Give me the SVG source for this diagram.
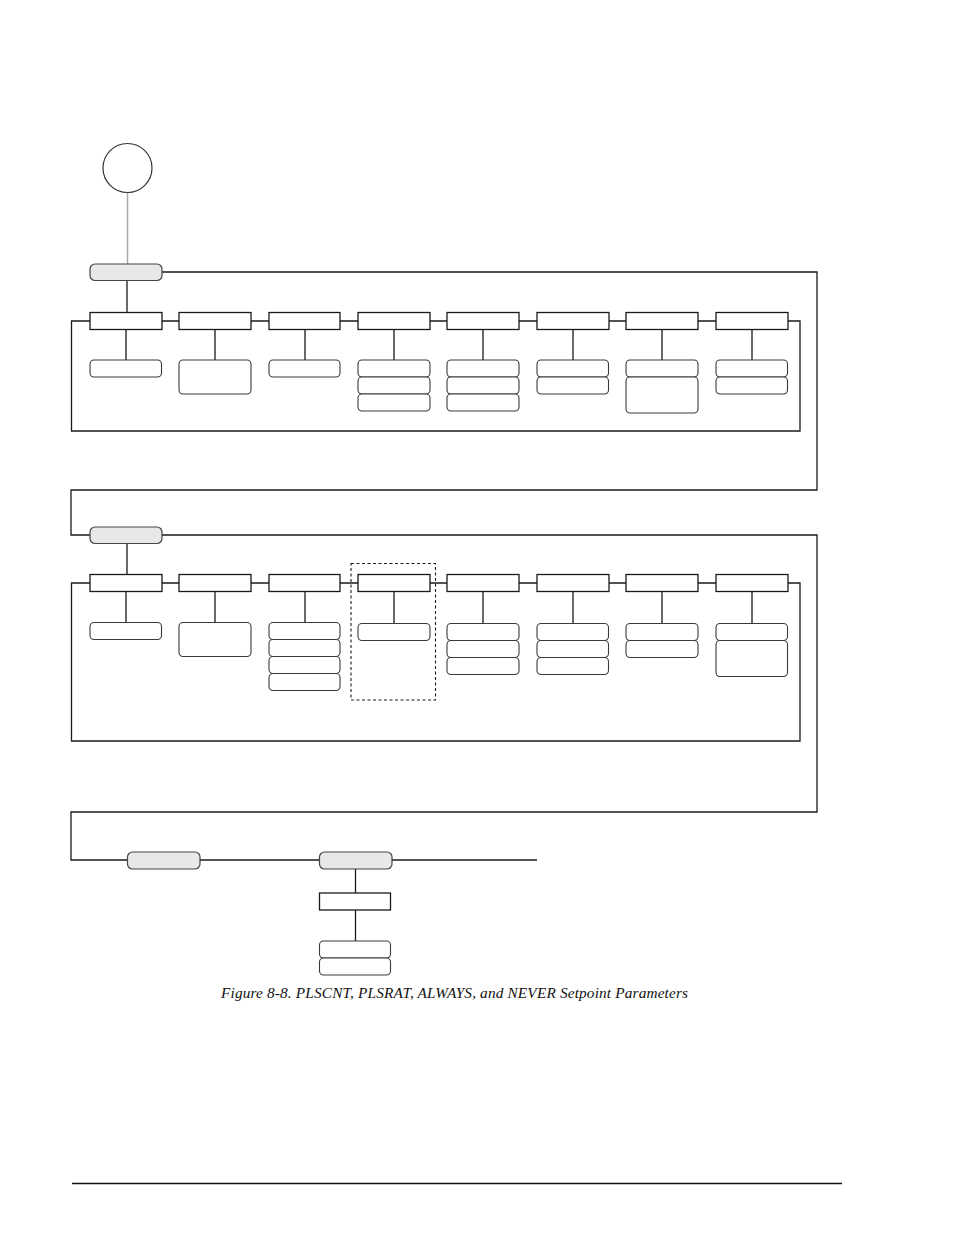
<svg xmlns="http://www.w3.org/2000/svg" width="954" height="1235" viewBox="0 0 954 1235">
<style>
.ln{fill:none;stroke:#1a1a1a;stroke-width:1.3}
.gl{fill:none;stroke:#aaaaaa;stroke-width:1.5}
.sq{fill:#fff;stroke:#1a1a1a;stroke-width:1.3}
.pl{fill:#e8e8e8;stroke:#444;stroke-width:1.2}
.ch{fill:#fff;stroke:#3a3a3a;stroke-width:1.1}
.ds{fill:none;stroke:#1a1a1a;stroke-width:1.1;stroke-dasharray:3,2.5}
</style>
<rect width="954" height="1235" fill="#fff"/>
<g id="connectors">
<line class="gl" x1="127.5" y1="192" x2="127.5" y2="264"/>
<polyline class="ln" points="162,272 817,272 817,490 71,490 71,535 90,535"/>
<line class="ln" x1="127" y1="280" x2="127" y2="312"/>
<polyline class="ln" points="90,321 71.5,321 71.5,431 800,431 800,321 788,321"/>
<path class="ln" d="M162,321H179M251,321H269M340,321H358M430,321H447M519,321H537M609,321H626M698,321H716"/>
<path class="ln" d="M126,329V360M215,329V360M305,329V360M394,329V360M483,329V360M573,329V360M662,329V360M752,329V360"/>
<polyline class="ln" points="162,535 817,535 817,812 71,812 71,860 127,860"/>
<line class="ln" x1="127" y1="543" x2="127" y2="574"/>
<polyline class="ln" points="90,583 71.5,583 71.5,741 800,741 800,583 788,583"/>
<path class="ln" d="M162,583H179M251,583H269M340,583H358M430,583H447M519,583H537M609,583H626M698,583H716"/>
<path class="ln" d="M126,591V622M215,591V622M305,591V622M394,591V623M483,591V623M573,591V623M662,591V623M752,591V623"/>
<line class="ln" x1="200" y1="860" x2="319" y2="860"/>
<line class="ln" x1="392" y1="860" x2="537" y2="860"/>
<line class="ln" x1="355.5" y1="869" x2="355.5" y2="893"/>
<line class="ln" x1="355.5" y1="910" x2="355.5" y2="941"/>
</g>
<g id="start"><circle cx="127.5" cy="168" r="24.5" fill="#fff" stroke="#333" stroke-width="1.2"/></g>
<g id="menu1"><rect class="pl" x="90" y="264" width="72" height="16.5" rx="5"/></g>
<g id="menu2"><rect class="pl" x="90" y="527" width="72" height="16.5" rx="5"/></g>
<g id="menu3"><rect class="pl" x="127.5" y="852" width="72.5" height="17" rx="5"/></g>
<g id="menu4"><rect class="pl" x="319.5" y="852" width="72.5" height="17" rx="5"/></g>
<g id="row1">
<rect class="sq" x="90" y="312.5" width="72" height="17"/>
<rect class="sq" x="179" y="312.5" width="72" height="17"/>
<rect class="sq" x="269" y="312.5" width="71" height="17"/>
<rect class="sq" x="358" y="312.5" width="72" height="17"/>
<rect class="sq" x="447" y="312.5" width="72" height="17"/>
<rect class="sq" x="537" y="312.5" width="72" height="17"/>
<rect class="sq" x="626" y="312.5" width="72" height="17"/>
<rect class="sq" x="716" y="312.5" width="72" height="17"/>
</g>
<g id="row1-options">
<rect class="ch" x="90" y="360" width="71.5" height="17" rx="4"/>
<rect class="ch" x="179" y="360" width="72" height="34" rx="4"/>
<rect class="ch" x="269" y="360" width="71" height="17" rx="4"/>
<rect class="ch" x="358" y="360" width="72" height="17" rx="4"/>
<rect class="ch" x="358" y="377" width="72" height="17" rx="4"/>
<rect class="ch" x="358" y="394" width="72" height="17" rx="4"/>
<rect class="ch" x="447" y="360" width="72" height="17" rx="4"/>
<rect class="ch" x="447" y="377" width="72" height="17" rx="4"/>
<rect class="ch" x="447" y="394" width="72" height="17" rx="4"/>
<rect class="ch" x="537" y="360" width="71.5" height="17" rx="4"/>
<rect class="ch" x="537" y="377" width="71.5" height="17" rx="4"/>
<rect class="ch" x="626" y="360" width="72" height="17" rx="4"/>
<rect class="ch" x="626" y="377" width="72" height="36" rx="4"/>
<rect class="ch" x="716" y="360" width="71.5" height="17" rx="4"/>
<rect class="ch" x="716" y="377" width="71.5" height="17" rx="4"/>
</g>
<g id="row2">
<rect class="sq" x="90" y="574.5" width="72" height="17"/>
<rect class="sq" x="179" y="574.5" width="72" height="17"/>
<rect class="sq" x="269" y="574.5" width="71" height="17"/>
<rect class="sq" x="358" y="574.5" width="72" height="17"/>
<rect class="sq" x="447" y="574.5" width="72" height="17"/>
<rect class="sq" x="537" y="574.5" width="72" height="17"/>
<rect class="sq" x="626" y="574.5" width="72" height="17"/>
<rect class="sq" x="716" y="574.5" width="72" height="17"/>
</g>
<g id="row2-options">
<rect class="ch" x="90" y="622.5" width="71.5" height="17" rx="4"/>
<rect class="ch" x="179" y="622.5" width="72" height="34" rx="4"/>
<rect class="ch" x="269" y="622.5" width="71" height="17" rx="4"/>
<rect class="ch" x="269" y="639.5" width="71" height="17" rx="4"/>
<rect class="ch" x="269" y="656.5" width="71" height="17" rx="4"/>
<rect class="ch" x="269" y="673.5" width="71" height="17" rx="4"/>
<rect class="ch" x="358" y="623.5" width="72" height="17" rx="4"/>
<rect class="ch" x="447" y="623.5" width="72" height="17" rx="4"/>
<rect class="ch" x="447" y="640.5" width="72" height="17" rx="4"/>
<rect class="ch" x="447" y="657.5" width="72" height="17" rx="4"/>
<rect class="ch" x="537" y="623.5" width="71.5" height="17" rx="4"/>
<rect class="ch" x="537" y="640.5" width="71.5" height="17" rx="4"/>
<rect class="ch" x="537" y="657.5" width="71.5" height="17" rx="4"/>
<rect class="ch" x="626" y="623.5" width="72" height="17" rx="4"/>
<rect class="ch" x="626" y="640.5" width="72" height="17" rx="4"/>
<rect class="ch" x="716" y="623.5" width="71.5" height="17" rx="4"/>
<rect class="ch" x="716" y="640.5" width="71.5" height="36" rx="4"/>
</g>
<g id="dashed-group"><rect class="ds" x="351" y="563.5" width="84.5" height="136.5"/></g>
<g id="row3">
<rect class="sq" x="319.5" y="893" width="71" height="17"/>
<rect class="ch" x="319.5" y="941" width="71" height="17" rx="4"/>
<rect class="ch" x="319.5" y="958" width="71" height="17" rx="4"/>
</g>
<text x="221" y="997.5" font-family="'Liberation Serif', 'Times New Roman', Times, serif" font-style="italic" font-size="15.3" fill="#111" textLength="467" lengthAdjust="spacing">Figure 8-8. PLSCNT, PLSRAT, ALWAYS, and NEVER Setpoint Parameters</text>
<line x1="72" y1="1183.5" x2="842" y2="1183.5" stroke="#111" stroke-width="1.3"/>
</svg>
